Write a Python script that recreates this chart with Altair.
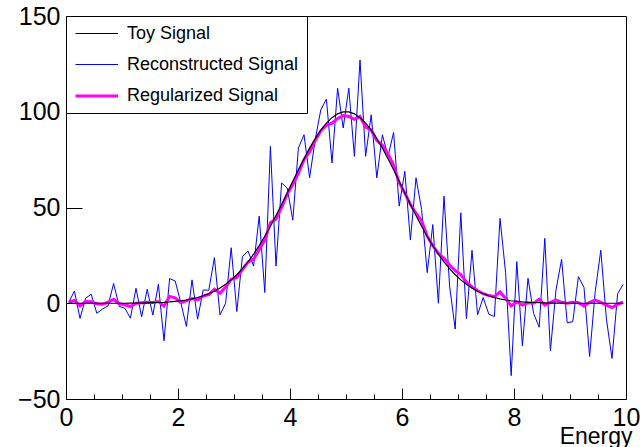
import altair as alt
import pandas as pd

# 100 bins on [0, 10], values at bin centres
n_bins = 100
energy = [round(0.05 + 0.1 * i, 2) for i in range(n_bins)]

toy = [0, 0, 0, 0, 0, 0, 0, 0, 0, 0, 0,
       0.1, 0.1, 0.1, 0.2, 0.3, 0.4, 0.5, 0.7, 1.0, 1.3, 1.7, 2.3, 3.0, 3.9, 5.0,
       6.3, 8.0, 9.9, 12.2, 14.9, 18.1, 21.6, 25.6, 30.1, 35.0, 40.2, 45.8, 51.6,
       57.6, 63.7, 69.7, 75.5, 81.0, 86.0, 90.4, 94.1, 96.9, 98.9, 99.9,
       99.9, 98.9, 96.9, 94.1, 90.4, 86.0, 81.0, 75.5, 69.7, 63.7, 57.6, 51.6,
       45.8, 40.2, 35.0, 30.1, 25.6, 21.6, 18.1, 14.9, 12.2, 9.9, 8.0, 6.3, 5.0,
       3.9, 3.0, 2.3, 1.7, 1.3, 1.0, 0.7, 0.5, 0.4, 0.3, 0.2, 0.1, 0.1, 0.1,
       0, 0, 0, 0, 0, 0, 0, 0, 0, 0, 0]

reco = [0.5, 6.4, -7.9, 2.6, 4.7, -5.2, -3.1, -1.4, 10.3, -1.6,
        -2.6, -7.8, 7.8, -7.1, 7.3, -6.2, 9.9, -19.6, 12.9, 11.6,
        0.3, -12.1, 12.2, -8.3, 6.9, 6.8, 23.8, -6.1, 0.0, 29.0,
        -4.3, 24.3, 27.3, 19.4, 45.5, 5.6, 81.9, 19.4, 62.8, 60.2,
        43.4, 81.1, 88.0, 65.5, 85.4, 101.0, 106.6, 73.3, 112.3, 91.5,
        112.3, 76.7, 127.0, 76.7, 98.4, 65.5, 88.0, 76.7, 89.2, 50.7,
        68.9, 33.0, 65.5, 49.0, 16.0, 41.1, 0.0, 55.9, 9.0, -13.5,
        47.2, -8.0, 27.6, -6.0, 3.0, -5.7, -6.9, 44.3, 16.0, -37.8,
        21.7, -22.2, 13.0, -5.3, -12.5, 33.9, -24.8, 7.0, 23.0, -10.2,
        -9.6, 13.9, 8.2, -27.8, 6.0, 27.7, -8.2, -28.8, 5.0, 9.9]

reg = [0.5, 1.5, -1.4, 0.9, 0.8, -0.3, -0.5, 0.5, 2.1, -0.3,
       -0.8, -1.7, 0.0, 0.3, 0.5, 0.4, 0.9, -1.4, 3.5, 2.8,
       0.3, 1.2, 2.4, 1.7, 3.8, 4.5, 7.3, 5.2, 8.5, 12.5,
       13.5, 17.5, 21.5, 23.0, 28.0, 33.0, 42.0, 44.0, 50.0, 57.0,
       62.0, 68.0, 75.0, 79.0, 85.0, 90.0, 93.0, 94.0, 96.5, 98.0,
       97.5, 96.0, 97.5, 92.0, 90.5, 85.0, 82.5, 78.0, 72.0, 63.0,
       57.6, 51.6, 47.0, 43.0, 35.0, 30.0, 26.0, 23.5, 20.0, 17.0,
       15.0, 11.0, 8.5, 6.5, 5.0, 4.0, 3.5, 5.9, 2.5, -1.4,
       0.8, -1.0, 0.3, 0.0, 2.1, -1.0, 0.5, 1.6, 0.5, 0.0,
       0.5, 0.3, -1.4, 0.5, 1.6, 0.5, -1.0, -2.2, -0.5, 0.5]

series_names = ["Toy Signal", "Reconstructed Signal", "Regularized Signal"]
series_colors = ["#000000", "#0000ff", "#ff00ff"]
series_widths = [1.2, 1, 3]

x_major = [0, 2, 4, 6, 8, 10]
x_minor = [0.5, 1, 1.5, 2.5, 3, 3.5, 4.5, 5, 5.5, 6.5, 7, 7.5, 8.5, 9, 9.5]
y_major = [-50, 0, 50, 100, 150]

rows = []
for name, vals in zip(series_names, [toy, reco, reg]):
    for e, v in zip(energy, vals):
        rows.append({"energy": e, "value": v, "series": name})
df = pd.DataFrame(rows)

FONT = "Liberation Sans"

xscale = alt.Scale(domain=[0, 10], nice=False, zero=False)
yscale = alt.Scale(domain=[-50, 150], nice=False, zero=False)

legend = alt.Legend(
    title=None, orient="none", legendX=0, legendY=0,
    symbolType="M-1,0H4", symbolSize=289,
    labelFont=FONT, labelFontSize=18, labelColor="black", labelLimit=400,
    labelExpr="datum.label + '\u00a0\u00a0\u00a0'",
    padding=8, rowPadding=12.5, labelOffset=33,
    strokeColor="black", fillColor="white",
)
color = alt.Color("series:N", scale=alt.Scale(domain=series_names, range=series_colors), legend=legend)
width_enc = alt.StrokeWidth(
    "series:N",
    scale=alt.Scale(type="ordinal", domain=series_names, range=series_widths),
    legend=legend,
)

base = alt.Chart(df)

major_x_axis = alt.Axis(
    values=x_major, tickSize=11, offset=-11, domain=False, grid=False,
    labelPadding=6, labelFont=FONT, labelFontSize=25, labelColor="black", labelFlush=False,
    tickColor="black", orient="bottom",
    title="Energy", titleFont=FONT, titleFontSize=23, titleFontWeight="normal", titleColor="black",
    titleAnchor="end", titleAlign="right", titleBaseline="alphabetic", titleX=566, titleY=55,
)
minor_x_axis = alt.Axis(
    values=x_minor, tickSize=5, offset=-5, domain=False, grid=False, labels=False,
    tickColor="black", orient="bottom", title=None,
)
y_axis = alt.Axis(
    values=y_major, tickSize=16, offset=-16, domain=False, grid=False,
    labelPadding=6, labelFont=FONT, labelFontSize=25, labelColor="black", labelFlush=False,
    tickColor="black", title=None,
)

blue = base.transform_filter(alt.datum.series == "Reconstructed Signal").mark_line().encode(
    x=alt.X("energy:Q", scale=xscale, axis=major_x_axis),
    y=alt.Y("value:Q", scale=yscale, axis=y_axis),
    color=color, strokeWidth=width_enc,
)
magenta = base.transform_filter(alt.datum.series == "Regularized Signal").mark_line().encode(
    x=alt.X("energy:Q", scale=xscale, axis=minor_x_axis),
    y=alt.Y("value:Q", scale=yscale, axis=y_axis),
    color=color, strokeWidth=width_enc,
)
black = base.transform_filter(alt.datum.series == "Toy Signal").mark_line().encode(
    x=alt.X("energy:Q", scale=xscale, axis=None),
    y=alt.Y("value:Q", scale=yscale, axis=y_axis),
    color=color, strokeWidth=width_enc,
)

chart = alt.layer(blue, magenta, black).resolve_axis(x="independent").properties(
    width=560, height=383,
    autosize=alt.AutoSizeParams(type="none"),
    padding={"left": 66, "top": 16, "right": 14, "bottom": 48},
    background="white",
).configure_view(stroke="black", strokeWidth=1)

chart.save("out.html", embed_options={"renderer": "svg", "actions": False})
